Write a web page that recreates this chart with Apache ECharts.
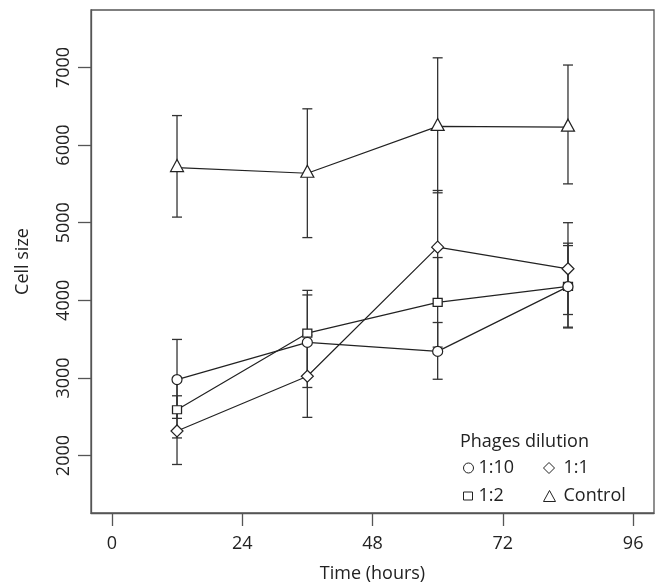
<!DOCTYPE html>
<html>
<head>
<meta charset="utf-8">
<script src="https://cdn.jsdelivr.net/npm/echarts@6/dist/echarts.min.js"></script>
<style>html,body{margin:0;padding:0;background:#fff;}#chart{width:658px;height:588px;}</style>
</head>
<body>
<div id="chart"></div>
<script>
// ---- data ----
const hours = [12, 36, 60, 84];
const xTicks = [0, 24, 48, 72, 96];
const yTicks = [2000, 3000, 4000, 5000, 6000, 7000];

const seriesNames = ['1:10', '1:2', '1:1', 'Control'];

const dil110 = [2979, 3458, 3342, 4176];
const dil110Low = [2479, 2877, 2983, 3654];
const dil110High = [3496, 4069, 3714, 4705];

const dil12 = [2590, 3577, 3974, 4180];
const dil12Low = [2227, 3026, 3397, 3644];
const dil12High = [2953, 4128, 4551, 4736];

const dil11 = [2317, 3022, 4685, 4406];
const dil11Low = [1885, 2492, 3955, 3817];
const dil11High = [2770, 3551, 5415, 5000];

const control = [5710, 5637, 6240, 6231];
const controlLow = [5072, 4808, 5385, 5500];
const controlHigh = [6380, 6467, 7124, 7031];

// ---- styling ----
const FONT = 'Open Sans';
const INK = '#222';
const AXIS = '#555';

function pts(vals) { return hours.map((h, i) => [h, vals[i]]); }
function bars(lo, hi) { return hours.map((h, i) => [h, lo[i], hi[i]]); }

function errorSeries(lo, hi) {
  return {
    type: 'custom',
    z: 1,
    silent: true,
    data: bars(lo, hi),
    renderItem: function (params, api) {
      const x = api.value(0);
      const pLo = api.coord([x, api.value(1)]);
      const pHi = api.coord([x, api.value(2)]);
      const hw = 5;
      const st = { stroke: '#333', lineWidth: 1.3 };
      return {
        type: 'group',
        children: [
          { type: 'line', shape: { x1: pLo[0], y1: pLo[1], x2: pHi[0], y2: pHi[1] }, style: st },
          { type: 'line', shape: { x1: pLo[0] - hw, y1: pLo[1], x2: pLo[0] + hw, y2: pLo[1] }, style: st },
          { type: 'line', shape: { x1: pHi[0] - hw, y1: pHi[1], x2: pHi[0] + hw, y2: pHi[1] }, style: st }
        ]
      };
    }
  };
}

function lineSeries(name, vals, symbol, size, z, offset) {
  return {
    name: name,
    type: 'line',
    z: z,
    data: pts(vals),
    symbol: symbol,
    symbolSize: size,
    symbolOffset: offset || [0, 0],
    showAllSymbol: true,
    lineStyle: { color: INK, width: 1.2 },
    itemStyle: { color: '#fff', borderColor: INK, borderWidth: 1.2 },
    emphasis: { disabled: true }
  };
}

function legendItem(name, icon, left, top, w, h, padLeft) {
  return {
    data: [name],
    icon: icon,
    left: left,
    top: top,
    padding: 0,
    itemWidth: w,
    itemHeight: h,
    itemGap: 0,
    selectedMode: false,
    itemStyle: { color: '#fff', borderColor: INK, borderWidth: 1 },
    textStyle: { fontFamily: FONT, fontSize: 18, color: INK, padding: [0, 0, 0, padLeft] }
  };
}

const chart = echarts.init(document.getElementById('chart'), null, { renderer: 'canvas' });
chart.setOption({
  animation: false,
  backgroundColor: '#fff',
  textStyle: { fontFamily: FONT },
  title: {
    text: 'Phages dilution',
    left: 460, top: 433, padding: 0,
    textStyle: { fontFamily: FONT, fontSize: 18, fontWeight: 'normal', color: INK }
  },
  legend: [
    legendItem('1:10', 'circle', 463, 459, 10, 10, 0),
    legendItem('1:1', 'diamond', 543, 459, 11, 11, 4),
    legendItem('1:2', 'rect', 463, 487, 9, 8, 1),
    legendItem('Control', 'triangle', 543, 487, 12, 11, 3)
  ],
  grid: { left: 91, right: 4, top: 10, bottom: 74, show: true, borderColor: AXIS, borderWidth: 1.3, backgroundColor: 'transparent' },
  xAxis: {
    type: 'value',
    min: -3.84, max: 99.84,
    name: 'Time (hours)',
    nameLocation: 'middle',
    nameGap: 52,
    nameTextStyle: { fontFamily: FONT, fontSize: 18, color: INK },
    axisLine: { show: true, onZero: false, lineStyle: { color: AXIS, width: 1.3 } },
    axisTick: { show: true, length: 13, lineStyle: { color: AXIS, width: 1.3 }, customValues: xTicks },
    axisLabel: { customValues: xTicks, margin: 22, fontFamily: FONT, fontSize: 18, color: INK },
    splitLine: { show: false }
  },
  yAxis: {
    type: 'value',
    min: 1260, max: 7740,
    name: 'Cell size',
    nameLocation: 'middle',
    nameGap: 59,
    nameTextStyle: { fontFamily: FONT, fontSize: 18, color: INK },
    axisLine: { show: true, onZero: false, lineStyle: { color: AXIS, width: 1.3 } },
    axisTick: { show: true, length: 13, lineStyle: { color: AXIS, width: 1.3 }, customValues: yTicks },
    axisLabel: { customValues: yTicks, rotate: 90, margin: 18, fontFamily: FONT, fontSize: 18, color: INK,
      formatter: function (v) { return String(v); } },
    splitLine: { show: false }
  },
  series: [
    errorSeries(dil110Low, dil110High),
    errorSeries(dil12Low, dil12High),
    errorSeries(dil11Low, dil11High),
    errorSeries(controlLow, controlHigh),
    lineSeries(seriesNames[1], dil12, 'rect', [9, 8], 3),
    lineSeries(seriesNames[2], dil11, 'diamond', 12, 3),
    lineSeries(seriesNames[0], dil110, 'circle', 10, 4),
    lineSeries(seriesNames[3], control, 'triangle', [13, 12], 3, [0, -2])
  ]
});
</script>
</body>
</html>
